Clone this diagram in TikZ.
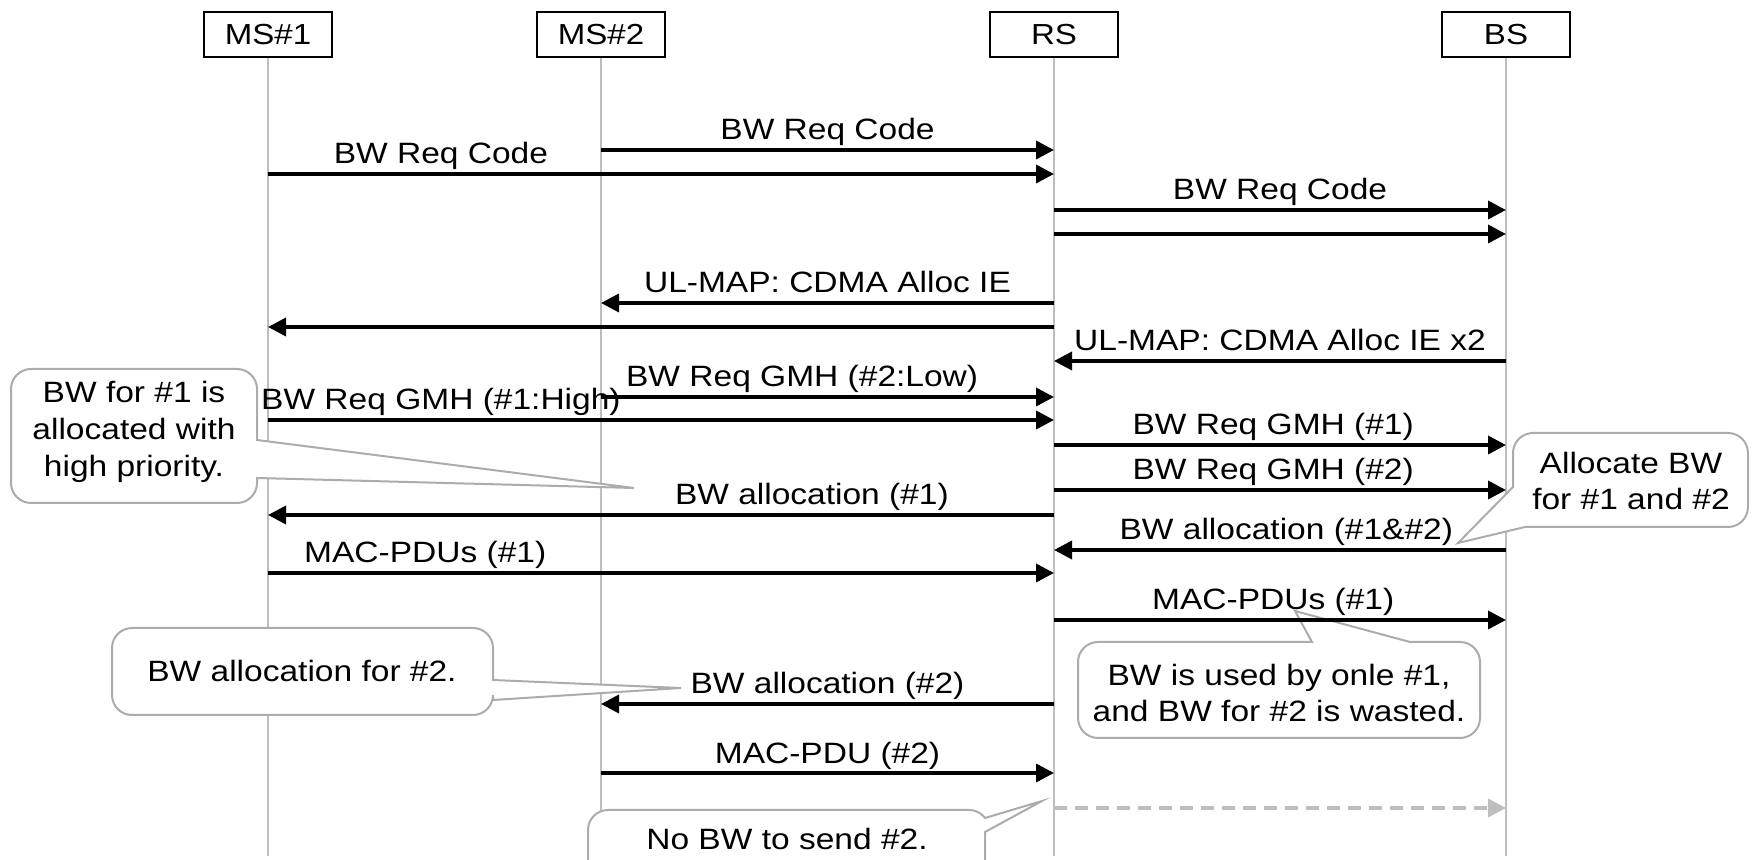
\documentclass[tikz,border=0pt]{standalone}
\usepackage{fontspec}
\setmainfont{Liberation Sans}[FakeStretch=1.14]
\usetikzlibrary{arrows.meta}

\definecolor{lifegray}{RGB}{190,190,190}
\definecolor{notegray}{RGB}{172,172,172}

\tikzset{
  entity/.style={draw=black, line width=1pt, fill=white, minimum width=64pt,
    minimum height=22.5pt, inner sep=0pt, font=\fontsize{14.5}{17}\selectfont},
  lifeline/.style={draw=lifegray, line width=1pt},
  msg/.style={line width=1.75pt, -{Triangle[length=9pt,width=9pt]}},
  lostmsg/.style={draw=lifegray, line width=2pt, dash pattern=on 6.5pt off 4pt,
    -{Triangle[length=9pt,width=9pt]}},
  lbl/.style={anchor=base, yshift=5pt, inner sep=0pt, font=\fontsize{14.7}{17}\selectfont},
  callout/.style={draw=notegray, line width=1pt, fill=white, rounded corners=10pt},
  notetext/.style={align=center, inner sep=0pt, font=\fontsize{14.7}{18.3}\selectfont}
}

\begin{document}
\begin{tikzpicture}[x=0.5pt,y=-0.5pt]
  \clip (0,0) rectangle (1752,860);
  %% entities
  \node[entity] (ms1) at (268,34.5) {MS\#1};
  \node[entity] (ms2) at (601,34.5) {MS\#2};
  \node[entity] (rs) at (1054,34.5) {RS};
  \node[entity] (bs) at (1506,34.5) {BS};
  \foreach \n in {ms1,ms2,rs,bs}
    \draw[lifeline] (\n.south) -- (\n |- 0,856);

  %% callouts
  \draw[callout] (134,369) -- (257,369) [sharp corners] -- (257,440) -- (634,488)
    -- (257,478) [rounded corners=10pt] -- (257,503) -- (11,503) -- (11,369) -- cycle;
  \node[notetext] (prio) at (134,432) {BW for \#1 is\\allocated with\\high priority.};
  \draw[callout] (1630,433) -- (1748,433) -- (1748,527) [sharp corners] -- (1525,527)
    -- (1458,543) -- (1513,487) [rounded corners=10pt] -- (1513,433) -- cycle;
  \node[notetext] (alloc) at (1631,481) {Allocate BW\\for \#1 and \#2};
  \draw[callout] (302,628) -- (493,628) [sharp corners] -- (493,680) -- (681,688)
    -- (493,700) [rounded corners=10pt] -- (493,715) -- (112,715) -- (112,628) -- cycle;
  \node[notetext] (allocb) at (302,671) {BW allocation for \#2.};
  \draw[callout] (1078,690) -- (1078,642) [sharp corners] -- (1312,642) -- (1295,611)
    -- (1410,642) [rounded corners=10pt] -- (1480,642) -- (1480,738) -- (1078,738) -- cycle;
  \node[notetext] (waste) at (1279,693) {BW is used by onle \#1,\\and BW for \#2 is wasted.};
  \draw[callout] (588,900) -- (588,810) [rounded corners=4pt] -- (978,810) [sharp corners]
    -- (985,818) -- (1042,801) -- (985,832) -- (985,900) -- cycle;
  \node[notetext, anchor=base] (nobw) at (787,849) {No BW to send \#2.};

  %% requests
  \draw[msg] (ms2 |- 0,150) -- node[lbl] {BW Req Code} (rs |- 0,150);
  \draw[msg] (ms1 |- 0,174) -- node[lbl, pos=0.22] {BW Req Code} (rs |- 0,174);
  \draw[msg] (rs |- 0,210) -- node[lbl] {BW Req Code} (bs |- 0,210);
  \draw[msg] (rs |- 0,234) -- (bs |- 0,234);
  %% grants
  \draw[msg] (rs |- 0,303) -- node[lbl] {UL-MAP: CDMA Alloc IE} (ms2 |- 0,303);
  \draw[msg] (rs |- 0,327) -- (ms1 |- 0,327);
  \draw[msg] (bs |- 0,361) -- node[lbl] {UL-MAP: CDMA Alloc IE x2} (rs |- 0,361);
  %% GMH
  \draw[msg] (ms2 |- 0,397) -- node[lbl, pos=0.444] {BW Req GMH (\#2:Low)} (rs |- 0,397);
  \draw[msg] (ms1 |- 0,420) -- node[lbl, pos=0.22] {BW Req GMH (\#1:High)} (rs |- 0,420);
  \draw[msg] (rs |- 0,445) -- node[lbl, pos=0.485] {BW Req GMH (\#1)} (bs |- 0,445);
  \draw[msg] (rs |- 0,490) -- node[lbl, pos=0.485] {BW Req GMH (\#2)} (bs |- 0,490);
  \draw[msg] (rs |- 0,515) -- node[lbl, pos=0.308] {BW allocation (\#1)} (ms1 |- 0,515);
  \draw[msg] (bs |- 0,550) -- node[lbl, pos=0.486] {BW allocation (\#1\&\#2)} (rs |- 0,550);
  %% data
  \draw[msg] (ms1 |- 0,573) -- node[lbl, pos=0.2] {MAC-PDUs (\#1)} (rs |- 0,573);
  \draw[msg] (rs |- 0,620) -- node[lbl, pos=0.485] {MAC-PDUs (\#1)} (bs |- 0,620);
  \draw[msg] (rs |- 0,704) -- node[lbl] {BW allocation (\#2)} (ms2 |- 0,704);
  \draw[msg] (ms2 |- 0,773) -- node[lbl] {MAC-PDU (\#2)} (rs |- 0,773);
  \draw[lostmsg] (rs |- 0,808) -- (bs |- 0,808);
\end{tikzpicture}
\end{document}
